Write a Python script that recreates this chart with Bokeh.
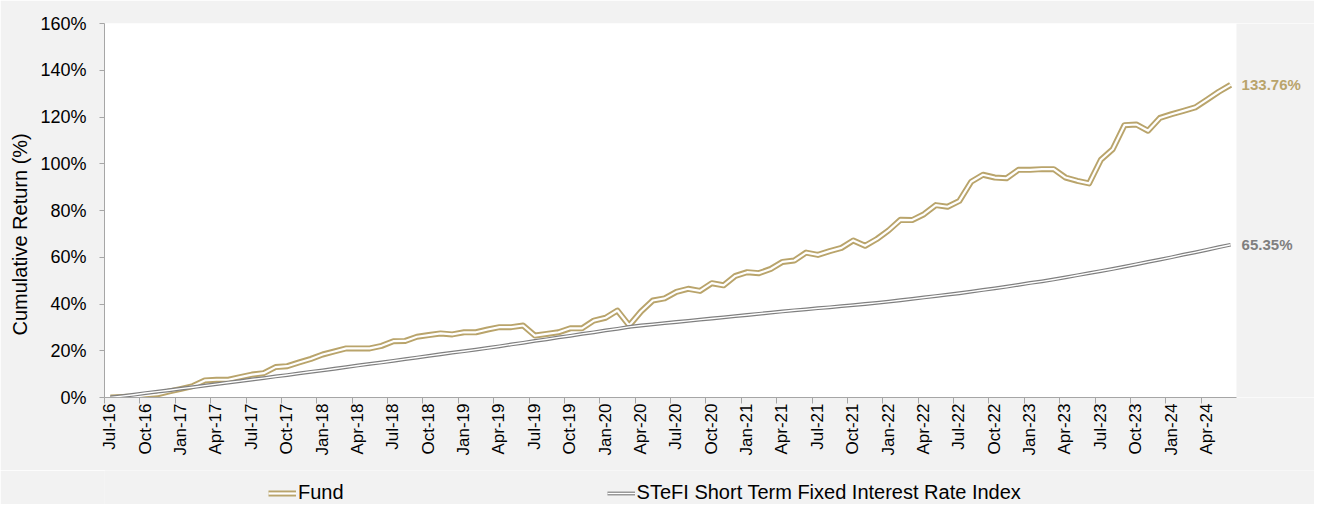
import numpy as np
import pandas as pd
from bokeh.plotting import figure
from bokeh.layouts import column
from bokeh.models import (Range1d, FixedTicker, LinearAxis, Legend, LegendItem, Label,
                          BoxAnnotation, Title)
from bokeh.embed import file_html
from bokeh.resources import INLINE

# ---- data ----
months = [d.strftime("%b-%y") for d in pd.date_range("2016-07-01", periods=96, freq="MS")]

fund = [
    0.0, 0.2, 0.4, 1.0, 1.4, 2.6, 3.7, 4.9, 7.3, 7.6,
    7.6, 8.7, 9.8, 10.4, 13.0, 13.4, 15.0, 16.5, 18.4, 19.7,
    21.0, 21.0, 21.0, 22.1, 24.1, 24.2, 26.0, 26.7, 27.4, 27.0,
    27.9, 27.9, 29.1, 30.1, 30.1, 30.8, 26.5, 27.2, 27.9, 29.6,
    29.6, 32.9, 34.1, 37.2, 30.8, 36.8, 41.5, 42.4, 45.2, 46.5,
    45.6, 48.9, 48.0, 52.0, 53.6, 53.2, 55.0, 58.0, 58.6, 62.0,
    61.0, 62.6, 64.0, 67.2, 64.9, 67.8, 71.5, 76.0, 75.9, 78.4,
    82.3, 81.6, 84.1, 92.3, 95.3, 94.1, 93.8, 97.4, 97.4, 97.7,
    97.7, 94.1, 92.7, 91.6, 101.7, 106.2, 116.5, 116.8, 114.1, 119.6,
    121.2, 122.6, 124.1, 127.4, 130.8, 133.76,
]

stefi = [
    0.0, 0.6, 1.2, 1.9, 2.5, 3.1, 3.8, 4.4, 5.1, 5.7,
    6.4, 7.0, 7.7, 8.3, 9.0, 9.6, 10.3, 11.0, 11.6, 12.3,
    13.0, 13.7, 14.4, 15.0, 15.7, 16.4, 17.1, 17.8, 18.5, 19.2,
    19.8, 20.5, 21.2, 21.9, 22.7, 23.4, 24.2, 24.9, 25.7, 26.4,
    27.2, 27.9, 28.7, 29.4, 30.2, 30.8, 31.3, 31.8, 32.3, 32.8,
    33.3, 33.8, 34.3, 34.8, 35.3, 35.8, 36.3, 36.8, 37.3, 37.7,
    38.2, 38.6, 39.1, 39.5, 40.0, 40.5, 41.0, 41.6, 42.2, 42.8,
    43.4, 44.0, 44.6, 45.3, 46.0, 46.7, 47.4, 48.2, 49.0, 49.7,
    50.5, 51.4, 52.3, 53.2, 54.1, 55.0, 56.0, 57.0, 58.0, 59.0,
    60.0, 61.1, 62.1, 63.2, 64.3, 65.35,
]

series_names = ["Fund", "STeFI Short Term Fixed Interest Rate Index"]
y_title = "Cumulative Return (%)"
y_ticks = [0, 20, 40, 60, 80, 100, 120, 140, 160]
y_tick_labels = [f"{t}%" for t in y_ticks]
x_tick_idx = list(range(0, 96, 3))
x_tick_labels = [months[i] for i in x_tick_idx]

# ---- layout / style ----
GOLD = "#b9a46b"
GREY = "#808080"
AXIS = "#a6a6a6"
BG = "#f2f2f2"
FONT = "Liberation Sans"

FIG_W = 1314
MAIN_H, LEG_H = 470, 34
LEFT, TOP, PLOT_RIGHT, BOTTOM = 104, 23, 1236, 397
n = len(months)
month_px = (PLOT_RIGHT - LEFT) / n
x_end = n + (FIG_W - PLOT_RIGHT) / month_px   # extra room for end labels

x = [i + 0.5 for i in range(n)]

p = figure(width=FIG_W, height=MAIN_H, output_backend="svg", toolbar_location=None, tools="",
           x_range=Range1d(0, x_end), y_range=Range1d(y_ticks[0], y_ticks[-1]),
           x_axis_location=None, y_axis_location=None)
p.min_border_left = LEFT
p.min_border_right = 0
p.min_border_top = TOP
p.min_border_bottom = MAIN_H - BOTTOM
p.border_fill_color = BG
p.background_fill_color = "white"
p.outline_line_color = None
p.grid.visible = False

# grey strip to the right of the plotting area (where the end labels sit)
p.add_layout(BoxAnnotation(left=n, fill_color=BG, fill_alpha=1, line_color=None, level="underlay"))

# y axis
yax = LinearAxis(ticker=FixedTicker(ticks=y_ticks),
                 major_label_overrides={t: l for t, l in zip(y_ticks, y_tick_labels)})
yax.axis_line_color = AXIS
yax.major_tick_line_color = AXIS
yax.major_tick_out = 5
yax.major_tick_in = 0
yax.minor_tick_line_color = None
yax.major_label_standoff = 13
yax.major_label_text_font = FONT
yax.major_label_text_font_size = "18px"
yax.major_label_text_color = "black"
p.add_layout(yax, "left")

# y title (offset downwards like the original)
p.add_layout(Title(text=y_title, align="left", offset=62, vertical_align="middle",
                   standoff=12, text_font=FONT, text_font_size="20px",
                   text_font_style="normal", text_color="black"), "left")

# x axis: line and tick marks only
xax1 = LinearAxis(ticker=FixedTicker(ticks=x_tick_idx),
                  major_label_overrides={i: "" for i in x_tick_idx}, bounds=(0, n))
xax1.axis_line_color = AXIS
xax1.major_tick_line_color = AXIS
xax1.major_tick_out = 6
xax1.major_tick_in = 0
xax1.minor_tick_line_color = None
xax1.major_label_text_font_size = "1px"
xax1.major_label_standoff = 6
p.add_layout(xax1, "below")

# x axis: labels only (placed slightly right of each tick, as in the original)
lab_pos = [round(i + 0.45, 2) for i in x_tick_idx]
xax2 = LinearAxis(ticker=FixedTicker(ticks=lab_pos),
                  major_label_overrides={pp: l for pp, l in zip(lab_pos, x_tick_labels)})
xax2.axis_line_color = None
xax2.major_tick_line_color = None
xax2.minor_tick_line_color = None
xax2.major_tick_out = 0
xax2.major_tick_in = 0
xax2.minor_tick_out = 0
xax2.minor_tick_in = 0
xax2.major_label_standoff = 0
xax2.major_label_orientation = np.pi / 2
xax2.major_label_text_font = FONT
xax2.major_label_text_font_size = "17px"
xax2.major_label_text_color = "black"
p.add_layout(xax2, "below")

# lines (double-line style)
p.line(x, fund, line_color=GOLD, line_width=6, line_join="round")
p.line(x, fund, line_color="white", line_width=2.2, line_join="round")
p.line(x, stefi, line_color=GREY, line_width=3.8, line_join="round")
p.line(x, stefi, line_color="white", line_width=1.4, line_join="round")

# end labels
p.add_layout(Label(x=x[-1], y=fund[-1], text=f"{fund[-1]:.2f}%", x_offset=11,
                   text_baseline="middle", text_font=FONT, text_font_style="bold",
                   text_font_size="15px", text_color=GOLD))
p.add_layout(Label(x=x[-1], y=stefi[-1], text=f"{stefi[-1]:.2f}%", x_offset=11,
                   text_baseline="middle", text_font=FONT, text_font_style="bold",
                   text_font_size="15px", text_color="#7f7f7f"))

# ---- legend strip (separate figure below; its frame aligns with the main frame) ----
lg = figure(width=FIG_W, height=LEG_H, output_backend="svg", toolbar_location=None, tools="",
            x_range=Range1d(0, 1), y_range=Range1d(0, 1),
            x_axis_location=None, y_axis_location=None, min_border=0)
lg.border_fill_color = BG
lg.background_fill_color = BG
lg.outline_line_color = None
lg.grid.visible = False
lg.add_layout(BoxAnnotation(fill_color=BG, fill_alpha=1, line_color=None, level="underlay"))
off = [-10, -9]  # legend proxies, outside the visible range
lf_o = lg.line(off, off, line_color=GOLD, line_width=6)
lf_i = lg.line(off, off, line_color="white", line_width=2.2)
ls_o = lg.line(off, off, line_color=GREY, line_width=3.8)
ls_i = lg.line(off, off, line_color="white", line_width=1.4)
legend = Legend(items=[LegendItem(label=series_names[0], renderers=[lf_o, lf_i]),
                       LegendItem(label=series_names[1], renderers=[ls_o, ls_i])],
                orientation="horizontal", location=(164, 0), spacing=263,
                label_standoff=2, glyph_width=28, glyph_height=20, padding=0, margin=0,
                border_line_color=None, background_fill_alpha=0,
                label_text_font=FONT, label_text_font_size="20px", label_text_color="black")
lg.add_layout(legend)

layout = column(p, lg, spacing=0)
open("out.html", "w").write(file_html(layout, INLINE))
